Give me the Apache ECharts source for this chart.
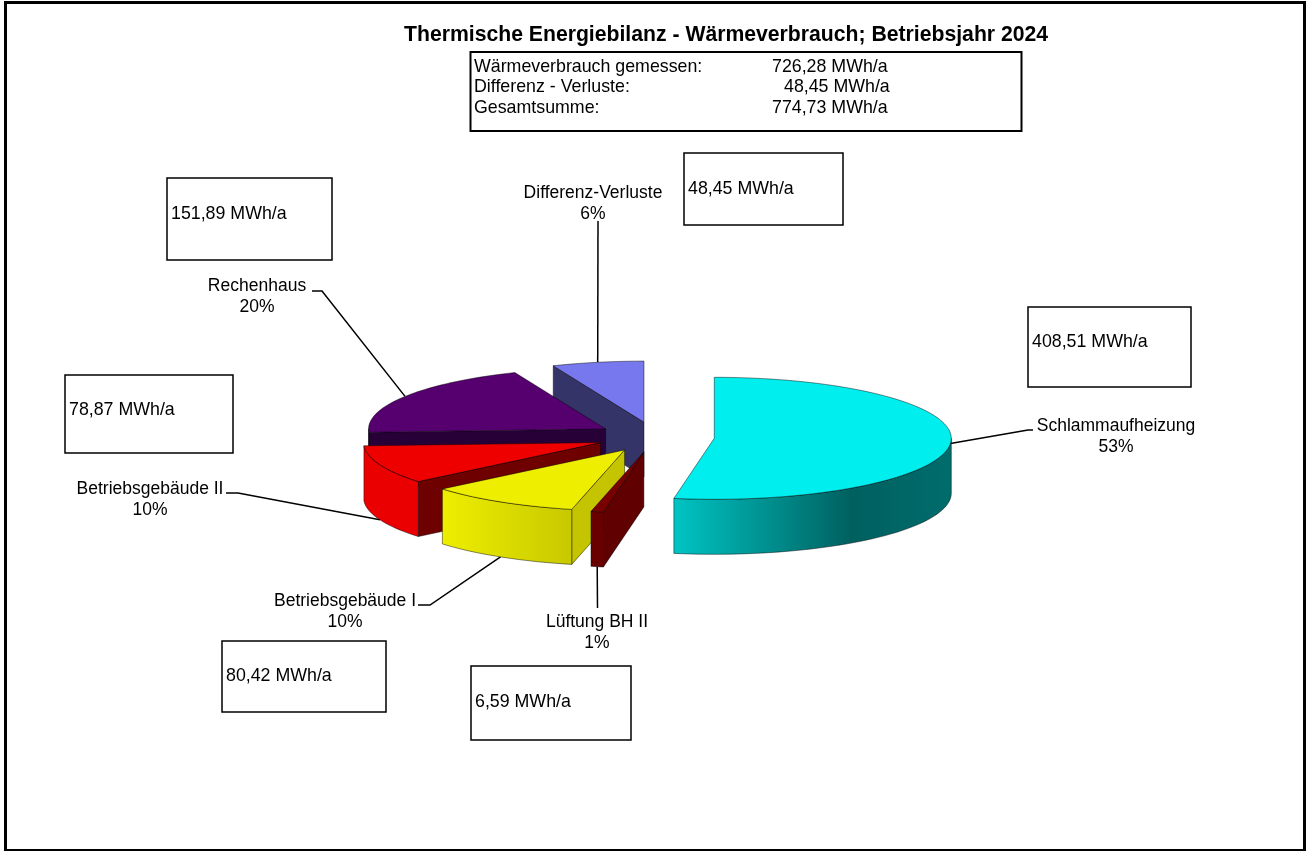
<!DOCTYPE html>
<html>
<head>
<meta charset="utf-8">
<title>Thermische Energiebilanz</title>
<script src="https://cdn.jsdelivr.net/npm/echarts@6/dist/echarts.min.js"></script>
<style>
  html, body { margin: 0; padding: 0; background: #fff; }
  #main { width: 1307px; height: 851px; }
</style>
</head>
<body>
<div id="main"></div>
<script>
// data, clockwise from 12 o'clock
var categories = ['Schlammaufheizung', 'Lüftung BH II', 'Betriebsgebäude I', 'Betriebsgebäude II', 'Rechenhaus', 'Differenz-Verluste'];
var values = [408.51, 6.59, 80.42, 78.87, 151.89, 48.45];
var unit = 'MWh/a';
var titleText = 'Thermische Energiebilanz - Wärmeverbrauch; Betriebsjahr 2024';
var infoLabels = ['Wärmeverbrauch gemessen:', 'Differenz - Verluste:', 'Gesamtsumme:'];
var infoValues = ['726,28', '48,45', '774,73'];

// pie geometry
var CX = 655.5, CY = 437, RX = 237, RY = 61, DEPTH = 55, EXPLODE = 59;
var FONT = '"Liberation Sans", Arial, sans-serif';
var LABEL_SIZE = 17.5;
var BOX_SIZE = 17.8;

// slice styles, same order as categories
var topColors = ['#00eeee', '#7a0000', '#eeee00', '#ee0000', '#560070', '#7878ee'];
var cutColors = ['#006060', '#600000', '#c4c400', '#6e0000', '#280038', '#343468'];
var sideStops = [
  [[0, '#00c4c4'], [0.64, '#006060'], [1, '#006c6c']],
  [[0, '#680000'], [1, '#680000']],
  [[0, '#eeee00'], [1, '#c8c800']],
  [[0, '#ea0000'], [1, '#ea0000']],
  [[0, '#280038'], [1, '#280038']],
  [[0, '#343468'], [1, '#343468']]
];
var drawRank = [6, 5, 4, 3, 2, 1]; // painted back to front
var leaderEnds = [[[1028, 430], [1033, 430]], [[597.5, 608]], [[430, 605], [418, 605]], [[238, 493], [226, 493]], [[322, 291], [312, 291]], [[598, 221]]];
var labelPos = [[1116, 425], [597, 621], [345, 600], [150, 488], [257, 285], [593, 192]];
var boxes = [[1028, 307, 163, 80], [471, 666, 160, 74], [222, 641, 164, 71], [65, 375, 168, 78], [167, 178, 165, 82], [684, 153, 159, 72]];
var boxTextY = [342, 702, 676, 410, 214, 189];

var total = values.reduce(function (a, b) { return a + b; }, 0);

function fmt(v) {
  return v.toFixed(2).replace('.', ',');
}

function rad(deg) {
  return deg * Math.PI / 180;
}

// point on the tilted rim, angle measured clockwise from the top
function rim(c, deg, dy) {
  return [c[0] + RX * Math.sin(rad(deg)), c[1] - RY * Math.cos(rad(deg)) + (dy || 0)];
}

function arc(c, from, to, dy) {
  var pts = [];
  var n = Math.max(2, Math.ceil(Math.abs(to - from) / 2));
  for (var i = 0; i <= n; i++) {
    pts.push(rim(c, from + (to - from) * i / n, dy));
  }
  return pts;
}

function startAngle(index) {
  var before = 0;
  for (var i = 0; i < index; i++) before += values[i];
  return before / total * 360;
}

function renderSlice(params, api) {
  var i = params.dataIndex;
  var share = api.value(0) / total;
  var a = startAngle(i);
  var b = a + share * 360;
  var mid = (a + b) / 2;
  var c = [CX + EXPLODE * Math.sin(rad(mid)), CY - EXPLODE * (RY / RX) * Math.cos(rad(mid))];
  var z = drawRank[i] * 10;
  var kids = [];

  function poly(points, fill, z2) {
    kids.push({
      type: 'polygon',
      z2: z2,
      shape: { points: points },
      style: { fill: fill, stroke: 'rgba(0,0,0,0.65)', lineWidth: 0.7 }
    });
  }

  // cut faces that look towards the viewer
  var cuts = [];
  if (Math.sin(rad(a)) < 0) cuts.push(a);
  if (Math.sin(rad(b)) > 0) cuts.push(b);
  cuts.forEach(function (deg) {
    var p = rim(c, deg);
    poly([c, p, [p[0], p[1] + DEPTH], [c[0], c[1] + DEPTH]], cutColors[i], z);
  });

  // outer wall, only the front half of the rim shows
  var from = Math.max(a, 90), to = Math.min(b, 270);
  if (to > from) {
    var wall = arc(c, from, to).concat(arc(c, to, from, DEPTH));
    var grad = new echarts.graphic.LinearGradient(0, 0, 1, 0, sideStops[i].map(function (s) {
      return { offset: s[0], color: s[1] };
    }));
    poly(wall, grad, z + 1);
  }

  // top
  poly([c].concat(arc(c, a, b)), topColors[i], z + 2);

  // leader line starts at the rim, on the wall bottom for front slices
  var front = Math.cos(rad(mid)) < -0.2;
  var start = rim(c, mid, front ? DEPTH : 0);
  kids.push({
    type: 'polyline',
    z2: 1,
    shape: { points: [start].concat(leaderEnds[i]) },
    style: { fill: null, stroke: '#000', lineWidth: 1.5 }
  });

  // label
  kids.push({
    type: 'text',
    z2: 100,
    style: {
      text: categories[i] + '\n' + Math.round(share * 100) + '%',
      x: labelPos[i][0],
      y: labelPos[i][1] - 9,
      align: 'center',
      verticalAlign: 'top',
      font: LABEL_SIZE + 'px ' + FONT,
      lineHeight: 21,
      fill: '#000'
    }
  });

  return { type: 'group', children: kids };
}

function boxRect(x, y, w, h, lw) {
  return {
    type: 'rect',
    z: 1,
    shape: { x: x, y: y, width: w, height: h },
    style: { fill: '#fff', stroke: '#000', lineWidth: lw }
  };
}

function plainText(text, x, y) {
  return {
    type: 'text',
    z: 2,
    style: { text: text, x: x, y: y, verticalAlign: 'middle', font: BOX_SIZE + 'px ' + FONT, fill: '#000' }
  };
}

var graphics = [
  { type: 'rect', z: 0, shape: { x: 5.5, y: 2.5, width: 1299, height: 848 }, style: { fill: '#fff', stroke: '#000', lineWidth: 3 } },
  boxRect(470.5, 52, 551, 79, 2)
];
infoLabels.forEach(function (t, i) {
  var y = 67 + i * 20.5;
  graphics.push(plainText(t, 474, y));
  graphics.push(plainText(infoValues[i] + ' ' + unit, i === 1 ? 784 : 772, y));
});
boxes.forEach(function (b, i) {
  graphics.push(boxRect(b[0], b[1], b[2], b[3], 1.5));
  graphics.push(plainText(fmt(values[i]) + ' ' + unit, b[0] + 4, boxTextY[i]));
});

var chart = echarts.init(document.getElementById('main'), null, { renderer: 'canvas' });
chart.setOption({
  animation: false,
  backgroundColor: '#fff',
  title: {
    text: titleText,
    left: 404,
    top: 25,
    padding: 0,
    textStyle: { fontFamily: FONT, fontSize: 21.2, fontWeight: 'bold', color: '#000' }
  },
  graphic: graphics,
  series: [{
    type: 'custom',
    coordinateSystem: 'none',
    silent: true,
    z: 5,
    renderItem: renderSlice,
    data: values.map(function (v) { return [v]; })
  }]
});
</script>
</body>
</html>
